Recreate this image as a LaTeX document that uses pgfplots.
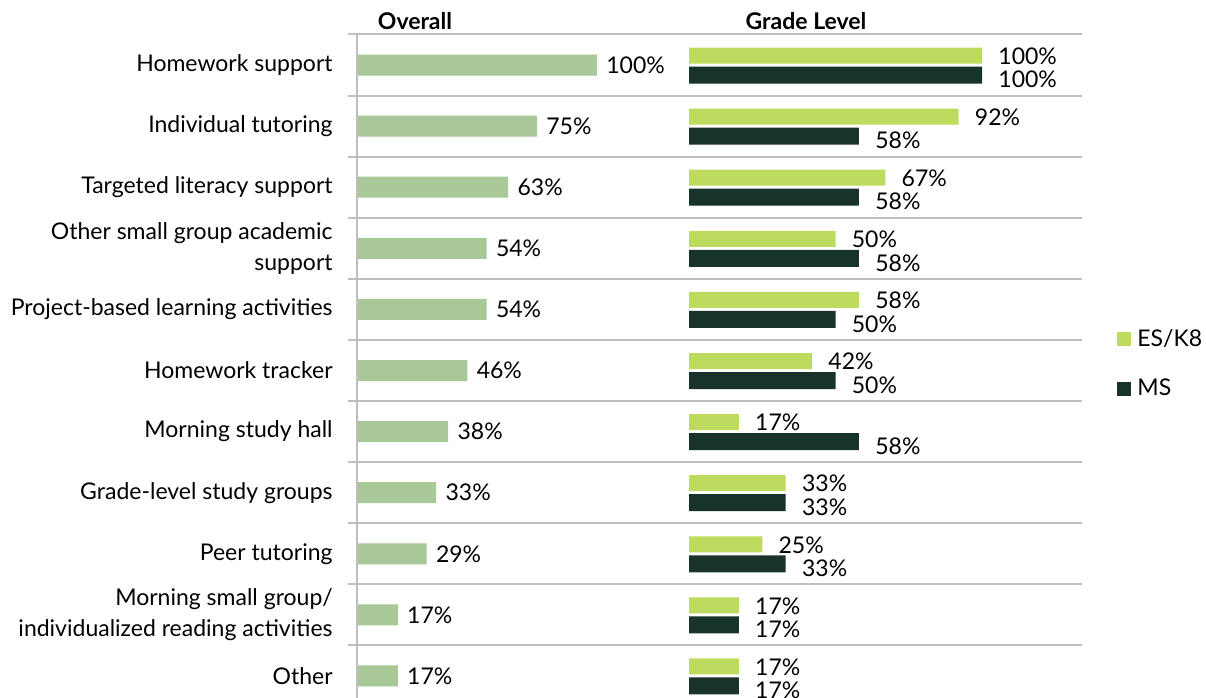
\documentclass[border=0pt]{standalone}
\usepackage{pgfplots}
\pgfplotsset{compat=1.18}
\usepackage{fontspec}
\setmainfont{Lato}
\definecolor{overall}{HTML}{A8C898}
\definecolor{es}{HTML}{BDDB5E}
\definecolor{ms}{HTML}{17332B}
\definecolor{gridgray}{HTML}{BFBFBF}
\newcommand{\lblfont}{\fontsize{11.5bp}{15.5bp}\selectfont}
\begin{document}
\begin{tikzpicture}
\useasboundingbox (0bp,0bp) rectangle (603bp,349bp);
\node[font=\bfseries\lblfont] at (207.5bp,338.5bp) {Overall};
\node[font=\bfseries\lblfont] at (403bp,338.5bp) {Grade Level};
\begin{axis}[
  at={(174bp,331.75bp)}, anchor=north west,
  scale only axis, width=367bp, height=336bp,
  xmin=-3.75, xmax=302.08, ymin=-0.5, ymax=10.5, y dir=reverse,
  axis line style={draw=none},
  xtick=\empty,
  ytick={-0.5,0.5,1.5,2.5,3.5,4.5,5.5,6.5,7.5,8.5,9.5},
  yticklabels={},
  major tick length=0pt,
  ymajorgrids, major grid style={gridgray, line width=1bp},
  extra y ticks={0,1,2,3,4,5,6,7,8,9,10},
  extra y tick labels={{Homework support},{Individual tutoring},{Targeted literacy support},{Other small group academic\\support},{Project-based learning activities},{Homework tracker},{Morning study hall},{Grade-level study groups},{Peer tutoring},{Morning small group/\\individualized reading activities},{Other}},
  extra y tick style={major grid style={draw=none}, yticklabel style={anchor=east, align=right, inner sep=0pt, xshift=-7.5bp, font=\lblfont}},
  /pgf/number format/assume math mode=true,
  clip=false,
]
\addplot[xbar, fill=overall, draw=none, bar width=10.5bp,
  nodes near coords={\pgfmathprintnumber{\pgfplotspointmeta}\%}, point meta=x,
  every node near coord/.style={anchor=west, inner sep=0pt, xshift=4.5bp, font=\lblfont, text=black}]
  coordinates {(100,0) (75,1) (63,2) (54,3) (54,4) (46,5) (38,6) (33,7) (29,8) (17,9) (17,10)};
\draw[gridgray, line width=1bp] (axis cs:0,-0.5) -- (axis cs:0,10.5);
\end{axis}
\begin{axis}[
  at={(174bp,331.75bp)}, anchor=north west,
  scale only axis, width=367bp, height=336bp,
  xmin=-116.38, xmax=134.13, ymin=-0.5, ymax=10.5, y dir=reverse,
  hide axis,
  /pgf/number format/assume math mode=true,
  clip=false,
  legend style={at={(axis description cs:1.0477,0.5618)}, anchor=north west, draw=none, fill=none, inner sep=0pt, row sep=15bp, font=\lblfont, nodes={inner sep=0pt}, /tikz/every odd column/.style={column sep=3bp}},
  legend cell align=left,
]
\addplot[xbar, fill=es, draw=none, bar width=8bp, bar shift=4.75bp,
  legend image code/.code={\fill[es] (0bp,-3.5bp) rectangle (7bp,3.5bp);},
  nodes near coords={\pgfmathprintnumber{\pgfplotspointmeta}\%}, point meta=x,
  every node near coord/.style={anchor=west, inner sep=0pt, xshift=8bp, yshift=4.5bp, font=\lblfont, text=black}]
  coordinates {(100,0) (92,1) (67,2) (50,3) (58,4) (42,5) (17,6) (33,7) (25,8) (17,9) (17,10)};
\addlegendentry{ES/K8}
\addplot[xbar, fill=ms, draw=none, bar width=8.5bp, bar shift=-5bp,
  legend image code/.code={\fill[ms] (0bp,-3.5bp) rectangle (7bp,3.5bp);},
  nodes near coords={\pgfmathprintnumber{\pgfplotspointmeta}\%}, point meta=x,
  every node near coord/.style={anchor=west, inner sep=0pt, xshift=8bp, yshift=-7.25bp, font=\lblfont, text=black}]
  coordinates {(100,0) (58,1) (58,2) (58,3) (50,4) (50,5) (58,6) (33,7) (33,8) (17,9) (17,10)};
\addlegendentry{MS}
\end{axis}
\end{tikzpicture}
\end{document}
